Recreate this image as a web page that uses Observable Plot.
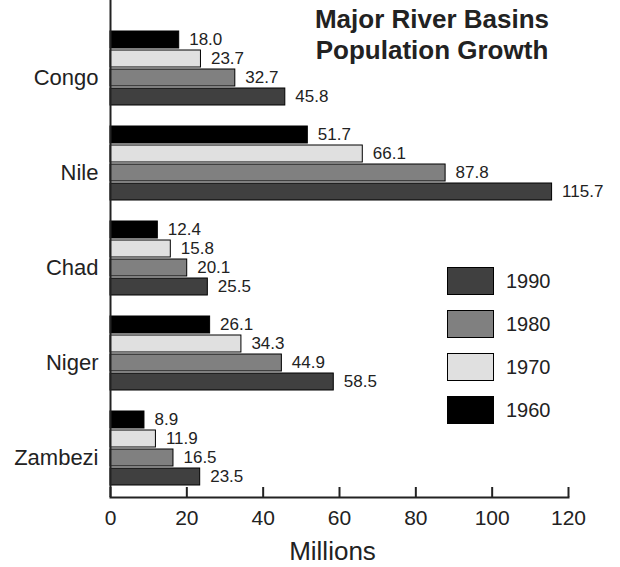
<!DOCTYPE html>
<html><head><meta charset="utf-8">
<script src="https://cdn.jsdelivr.net/npm/d3@7"></script>
<script src="https://cdn.jsdelivr.net/npm/@observablehq/plot@0.6"></script>
<style>
body{margin:0;background:#fff;font-family:"Liberation Sans",Arial,sans-serif;}
#wrap{position:relative;width:620px;height:567px;overflow:hidden;}
#title{position:absolute;left:282px;width:300px;top:4px;text-align:center;font-weight:bold;font-size:26px;line-height:31px;color:#222;}
.lg{position:absolute;left:447px;height:28px;display:flex;align-items:center;}
.lg .box{width:47px;height:28px;box-sizing:border-box;border:1px solid #000;}
.lg .lab{margin-left:12px;font-size:20px;color:#222;}
</style></head><body><div id="wrap"></div>
<script>
const basins = ["Congo","Nile","Chad","Niger","Zambezi"];
const years = ["1960","1970","1980","1990"];
const pop1960 = [18.0, 51.7, 12.4, 26.1, 8.9];
const pop1970 = [23.7, 66.1, 15.8, 34.3, 11.9];
const pop1980 = [32.7, 87.8, 20.1, 44.9, 16.5];
const pop1990 = [45.8, 115.7, 25.5, 58.5, 23.5];
const xTicks = [0,20,40,60,80,100,120];
const colors = ["#000000","#e0e0e0","#808080","#404040"];
const titleLines = ["Major River Basins","Population Growth"];
const xLabel = "Millions";

const series = [pop1960, pop1970, pop1980, pop1990];
const rows = [];
basins.forEach((b,i)=> years.forEach((y,j)=> rows.push({basin:b, year:y, key:b+"|"+y, value:series[j][i]})));
const domain = [];
basins.forEach((b,i)=>{ if(i>0) domain.push("gap"+i); years.forEach(y=>domain.push(b+"|"+y)); });

const plot = Plot.plot({
  width:620, height:567, marginLeft:110, marginRight:52, marginTop:0, marginBottom:70,
  style:{fontFamily:'"Liberation Sans", Arial, sans-serif', color:"#222", background:"#fff", overflow:"visible"},
  x:{domain:[0,120]},
  y:{type:"band", domain, range:[28.5,488.4], padding:0.08},
  color:{domain:years, range:colors},
  marks:[
    Plot.barX(rows,{x:"value", y:"key", fill:"year", stroke:"#000", strokeWidth:1}),
    Plot.text(rows,{x:"value", y:"key", text:d=>d.value.toFixed(1), dx:10, textAnchor:"start", fontSize:17, fill:"#222"}),
    Plot.axisY({ticks: basins.map(b=>b+"|1980"), tickFormat:d=>d.split("|")[0], tickSize:0, tickPadding:12, fontSize:22, label:null}),
    Plot.axisX({ticks:xTicks, tickSize:0, tickPadding:13, fontSize:21, label:null}),
    Plot.tickX(xTicks,{x:d=>d, insetTop:487, strokeWidth:2}),
    Plot.ruleX([0],{strokeWidth:2}),
    Plot.frame({anchor:"bottom", strokeWidth:2}),
    Plot.text([xLabel],{frameAnchor:"bottom", lineAnchor:"middle", text:d=>d, dx:-7, dy:54, fontSize:26, fill:"#222"})
  ]
});
const wrap = document.getElementById("wrap");
wrap.appendChild(plot);
const t = document.createElement("div");
t.id = "title";
t.innerHTML = titleLines.join("<br>");
wrap.appendChild(t);
const legendOrder = [...years].reverse();
legendOrder.forEach((y,i)=>{
  const row = document.createElement("div");
  row.className = "lg";
  row.style.top = (267 + i*43) + "px";
  const box = document.createElement("div");
  box.className = "box";
  box.style.background = colors[years.indexOf(y)];
  const lab = document.createElement("span");
  lab.className = "lab";
  lab.textContent = y;
  row.appendChild(box); row.appendChild(lab);
  wrap.appendChild(row);
});
</script></body></html>
